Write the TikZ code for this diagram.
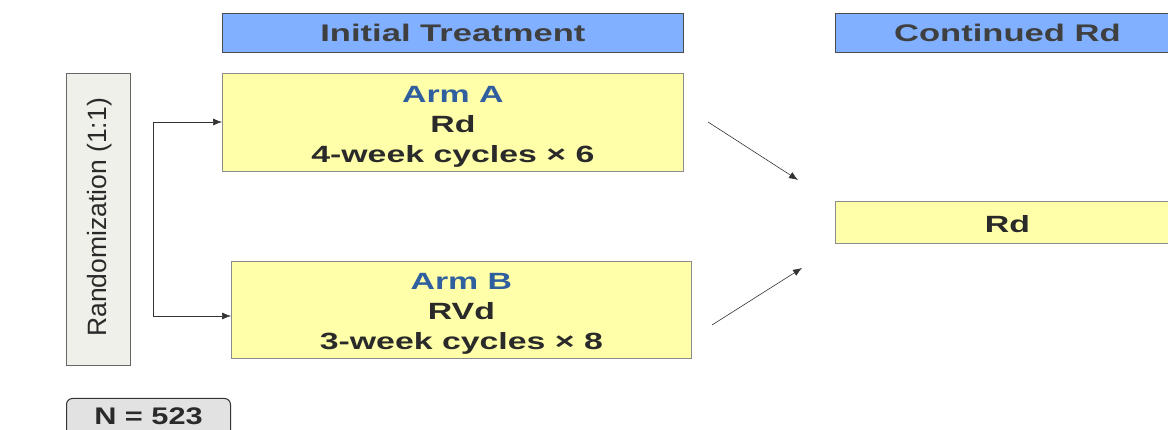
\documentclass[tikz,border=0pt]{standalone}
\usepackage{fontspec}
\setmainfont{Liberation Sans}
\usetikzlibrary{arrows.meta}
\definecolor{hdrblue}{HTML}{80B0FF}
\definecolor{boxyellow}{HTML}{FFFFAA}
\definecolor{randgray}{HTML}{F0F0EA}
\definecolor{ngray}{HTML}{E2E2E2}
\definecolor{armblue}{HTML}{2F5F9F}
\definecolor{txtdark}{HTML}{2A2A2A}
\newcommand{\wide}[1]{\scalebox{1.44}[1]{#1}}
\newcommand{\wideL}[1]{\raisebox{-4pt}[\height][\depth]{\scalebox{1.44}[1]{#1}}}
\tikzset{
  header/.style={draw=black!70, fill=hdrblue, line width=0.8pt, inner sep=0pt, font=\bfseries\fontsize{24}{26}\selectfont, text=txtdark!90},
  armbox/.style={draw=black!45, fill=boxyellow, line width=0.8pt, inner sep=0pt, font=\bfseries\fontsize{23.5}{30}\selectfont, align=center, text=txtdark},
  randbox/.style={draw=black!60, fill=randgray, line width=0.8pt, inner sep=0pt},
  nbox/.style={draw=black!80, fill=ngray, line width=1pt, rounded corners=6pt, inner sep=0pt},
  conn/.style={line width=0.6pt, draw=black!80, -{Latex[length=9pt,width=7pt]}},
}
\begin{document}
\begin{tikzpicture}[x=1pt,y=-1pt]
\useasboundingbox (0,0) rectangle (1168,430);
\clip (0,0) rectangle (1168,430);
% headers
\node[header, minimum width=461pt, minimum height=39pt, anchor=north west] (hinit) at (222,13) {\wide{Initial Treatment}};
\node[header, minimum width=344pt, minimum height=39pt, anchor=north west] (hcont) at (835,13) {\wide{Continued Rd}};
% randomization
\node[randbox, minimum width=64pt, minimum height=292pt, anchor=north west] (rand) at (66,73) {};
\node[rotate=90, font=\fontsize{26.5}{28}\selectfont, text=txtdark] (randtxt) at ([xshift=1pt,yshift=2pt]rand.center) {Randomization (1:1)};
% arms
\node[armbox, minimum width=461pt, minimum height=98pt, anchor=north west] (armA) at (222,73) {\wideL{\textcolor{armblue}{Arm A}}\\\wideL{Rd}\\\wideL{4-week cycles × 6}};
\node[armbox, minimum width=460pt, minimum height=97pt, anchor=north west] (armB) at (231,261) {\wideL{\textcolor{armblue}{Arm B}}\\\wideL{RVd}\\\wideL{3-week cycles × 8}};
% continued Rd
\node[armbox, minimum width=344pt, minimum height=42pt, anchor=north west] (rd) at (835,201) {\raisebox{-1.5pt}[\height][\depth]{\wide{Rd}}};
% N box
\node[nbox, minimum width=164pt, minimum height=44pt, anchor=north west, font=\bfseries\fontsize{24}{26}\selectfont, text=txtdark] (n) at (66,398) {\raisebox{8pt}{\scalebox{1.28}[1]{N = 523}}};
% bracket connectors
\coordinate (bt) at (153,122);
\coordinate (bb) at (153,316);
\draw[line width=0.6pt, draw=black!80] (bt) -- (bb);
\draw[conn] (bt) -- (armA.west |- bt);
\draw[conn] (bb) -- (armB.west |- bb);
% converging arrows
\coordinate (a1s) at (708,122);
\coordinate (a1e) at (798,180);
\coordinate (a2s) at (712,325);
\coordinate (a2e) at (802,268);
\draw[conn] (a1s) -- (a1e);
\draw[conn] (a2s) -- (a2e);
\end{tikzpicture}
\end{document}
